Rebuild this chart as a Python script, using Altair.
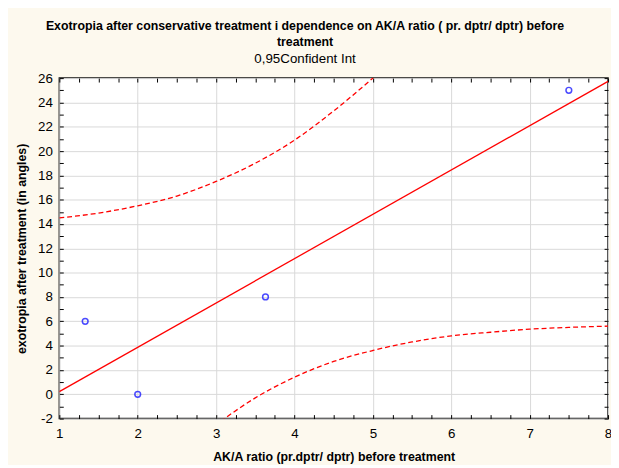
import altair as alt
import pandas as pd

# Observed data points
ak_ratio = [1.33, 2.0, 3.63, 7.5]
exotropia = [6, 0, 8, 25]

# 0.95 confidence band
upper_x = [1.0, 1.5, 2.0, 2.5, 3.0, 3.5, 4.0, 4.5, 5.0, 5.5]
upper_y = [14.5, 14.9, 15.5, 16.3, 17.5, 19.0, 20.9, 23.3, 26.0, 28.9]
lower_x = [2.5, 3.0, 3.5, 4.0, 4.5, 5.0, 5.5, 6.0, 6.5, 7.0, 7.5, 8.0]
lower_y = [-5.0, -2.5, -0.3, 1.4, 2.7, 3.6, 4.3, 4.8, 5.1, 5.35, 5.5, 5.6]

x_major = [1, 2, 3, 4, 5, 6, 7, 8]
x_minor = [1 + 0.25 * i for i in range(29)]
y_major = list(range(-2, 27, 2))
y_minor = list(range(-2, 27, 1))

W, H = 556, 345
FONT = "Liberation Sans"

pts = pd.DataFrame({"x": ak_ratio, "y": exotropia})
up = pd.DataFrame({"x": upper_x, "y": upper_y})
lo = pd.DataFrame({"x": lower_x, "y": lower_y})

xs = alt.Scale(domain=[1, 8], nice=False, zero=False)
ys = alt.Scale(domain=[-2, 26], nice=False, zero=False)

tick_common = dict(labels=False, grid=False, domain=False, ticks=True, tickSize=4,
                   tickColor="black", tickWidth=1, title=None)

points = alt.Chart(pts).mark_point(shape="circle", filled=False, color="#0000ff",
                                   size=34, strokeWidth=1.5).encode(
    x=alt.X("x:Q", scale=xs, axis=alt.Axis(
        orient="bottom", values=x_major, grid=True, gridColor="#d8d8d8", ticks=False,
        domain=False, labelPadding=8, labelFontSize=13.5, labelFont=FONT, labelColor="black",
        labelExpr="datum.value + ''", labelFlush=False, labelOverlap=False,
        title="AK/A ratio (pr.dptr/ dptr) before treatment", titleFont=FONT,
        titleFontSize=12.5, titleFontWeight="bold", titleColor="black", titlePadding=11)),
    y=alt.Y("y:Q", scale=ys, axis=alt.Axis(
        orient="left", values=y_major, grid=True, gridColor="#d8d8d8", ticks=False,
        domain=False, labelPadding=7, labelFontSize=13.5, labelFont=FONT, labelColor="black",
        labelExpr="datum.value + ''", labelFlush=False, labelOverlap=False,
        title="exotropia after treatment (in angles)", titleFont=FONT,
        titleFontSize=12.5, titleFontWeight="bold", titleColor="black", titlePadding=9)),
)

reg = alt.Chart(pts).transform_regression("x", "y", extent=[1, 8]).mark_line(
    color="#ff0000", strokeWidth=1.3, clip=True).encode(
    x=alt.X("x:Q", scale=xs, axis=alt.Axis(orient="top", offset=-H, values=x_minor, **tick_common)),
    y=alt.Y("y:Q", scale=ys, axis=alt.Axis(orient="right", offset=-W, values=y_minor, **tick_common)),
)

upper = alt.Chart(up).mark_line(color="#ff0000", strokeWidth=1.3, strokeDash=[5, 3],
                                interpolate="monotone", clip=True).encode(
    x=alt.X("x:Q", scale=xs, axis=alt.Axis(orient="bottom", offset=-H, values=x_minor, **tick_common)),
    y=alt.Y("y:Q", scale=ys, axis=alt.Axis(orient="left", offset=-W, values=y_minor, **tick_common)),
)

lower = alt.Chart(lo).mark_line(color="#ff0000", strokeWidth=1.3, strokeDash=[5, 3],
                                interpolate="monotone", clip=True).encode(
    x=alt.X("x:Q", scale=xs, axis=None),
    y=alt.Y("y:Q", scale=ys, axis=None),
)

chart = alt.layer(upper, lower, reg, points).resolve_axis(
    x="independent", y="independent"
).properties(
    width=W, height=H,
    autosize=alt.AutoSizeParams(type="none"),
    padding={"left": 52, "top": 68, "right": 3, "bottom": 44},
    background="#fdf9ee",
    title=alt.TitleParams(
        text=["Exotropia after conservative treatment i dependence on AK/A ratio ( pr. dptr/ dptr) before",
              "treatment"],
        subtitle="0,95Confident Int",
        font=FONT, fontSize=12.5, fontWeight="bold", color="black", lineHeight=16,
        subtitleFont=FONT, subtitleFontSize=13.5, subtitleColor="black", subtitlePadding=4,
        anchor="middle", dx=-29, offset=6,
    ),
).configure_view(stroke="#111111", strokeWidth=1.5, fill="white")

chart.save("out.html", embed_options={"renderer": "svg", "actions": False})
